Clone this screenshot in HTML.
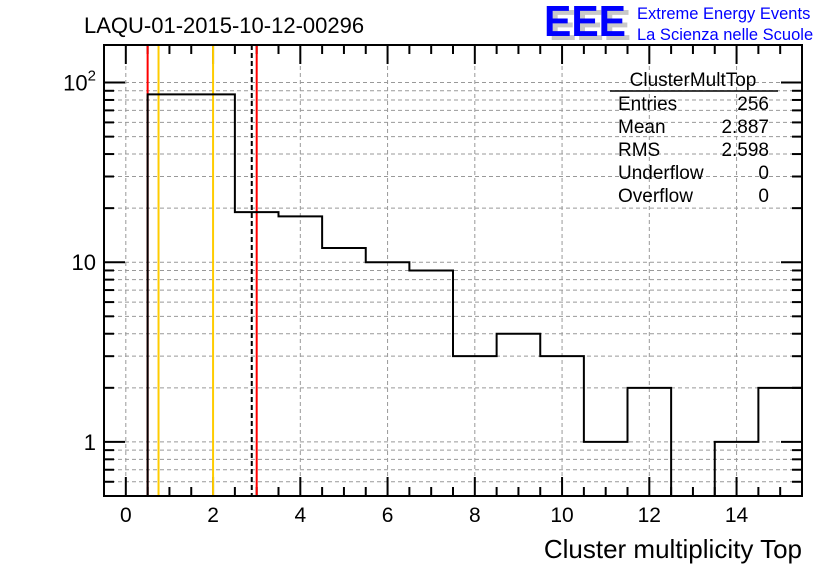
<!DOCTYPE html>
<html><head><meta charset="utf-8"><style>
html,body{margin:0;padding:0;background:#fff;}
svg{display:block;font-family:"Liberation Sans",sans-serif;}
</style></head><body>
<svg id="chart" width="836" height="572" viewBox="0 0 836 572">
<rect x="0" y="0" width="836" height="572" fill="#fff"/>
<g id="grid"></g>
<g id="ticks"></g>
<g id="lines"></g>
<g id="hist"></g>
<rect x="104" y="45" width="698" height="451" fill="none" stroke="#000" stroke-width="2"/>
<g id="labels"></g>
<text x="84" y="33" font-size="22">LAQU-01-2015-10-12-00296</text>
<g>
<text x="549" y="40" font-size="44" font-weight="bold" fill="#c8c8c8" textLength="82" lengthAdjust="spacingAndGlyphs">EEE</text>
<text x="544" y="36" font-size="44" font-weight="bold" fill="#0000ff" textLength="82" lengthAdjust="spacingAndGlyphs">EEE</text>
<text x="637" y="19" font-size="16.5" fill="#0000ff">Extreme Energy Events</text>
<text x="637" y="40" font-size="16.5" fill="#0000ff">La Scienza nelle Scuole</text>
</g>
<g font-size="19">
<text x="693" y="86" text-anchor="middle">ClusterMultTop</text>
<line x1="610" y1="91" x2="778" y2="91" stroke="#000" stroke-width="1.5"/>
<text x="618" y="110">Entries</text><text x="769" y="110" text-anchor="end">256</text>
<text x="618" y="133">Mean</text><text x="769" y="133" text-anchor="end">2.887</text>
<text x="618" y="156">RMS</text><text x="769" y="156" text-anchor="end">2.598</text>
<text x="618" y="179">Underflow</text><text x="769" y="179" text-anchor="end">0</text>
<text x="618" y="202">Overflow</text><text x="769" y="202" text-anchor="end">0</text>
</g>
<text x="802" y="558" font-size="26" text-anchor="end">Cluster multiplicity Top</text>
</svg>
<script>
const binCenters = [0,1,2,3,4,5,6,7,8,9,10,11,12,13,14,15];
const counts = [0,86,86,19,18,12,10,9,3,4,3,1,2,0,1,2];
const xTicks = [0,2,4,6,8,10,12,14];
const yTickValues = [1,10,100];
const markerRed = [0.5,3.0];
const markerYellow = [0.75,2.0];
const markerMean = [2.887];

const X0=104,X1=802,Y0=45,Y1=496,XMIN=-0.5,XMAX=15.5;
const YMIN=Math.log10(0.5),YMAX=2.209;
function xs(v){return X0+(v-XMIN)/(XMAX-XMIN)*(X1-X0);}
function ys(v){return Y1-(Math.log10(v)-YMIN)/(YMAX-YMIN)*(Y1-Y0);}
const NS="http://www.w3.org/2000/svg";
function mk(tag,attrs,parent){const e=document.createElementNS(NS,tag);for(const k in attrs)e.setAttribute(k,attrs[k]);parent.appendChild(e);return e;}
const grid=document.getElementById('grid'),ticks=document.getElementById('ticks'),lines=document.getElementById('lines'),hist=document.getElementById('hist'),labels=document.getElementById('labels');

xTicks.forEach(v=>{
  const g=mk('line',{x1:xs(v),x2:xs(v),y1:Y0,y2:Y1,stroke:'#999','stroke-dasharray':'4,3','stroke-width':1},grid);
  
  
  const t=mk('text',{x:xs(v),y:522,'font-size':21,'text-anchor':'middle'},labels);
  t.textContent=v;
  
  
});
for(let v=-0.5;v<=15.5;v+=0.5){
  const major=Math.abs(v%2)<1e-9;
  const L=major?19:9;
  mk('line',{x1:xs(v),x2:xs(v),y1:Y1,y2:Y1-L,stroke:'#000','stroke-width':2},ticks);
  mk('line',{x1:xs(v),x2:xs(v),y1:Y0,y2:Y0+L,stroke:'#000','stroke-width':2},ticks);
}
for(let d=-1;d<=2;d++){
  for(let m=1;m<=9;m++){
    const v=m*Math.pow(10,d);
    if(v<0.5||v>161)continue;
    const y=ys(v);
    const g=mk('line',{x1:X0,x2:X1,y1:y,y2:y,stroke:'#999','stroke-dasharray':'4,3','stroke-width':1},grid);
    
    
    const L=m===1?21:10;
    mk('line',{x1:X0,x2:X0+L,y1:y,y2:y,stroke:'#000','stroke-width':2},ticks);
    mk('line',{x1:X1,x2:X1-L,y1:y,y2:y,stroke:'#000','stroke-width':2},ticks);
  }
}
yTickValues.forEach(v=>{
  const y=ys(v)+8;
  const t=mk('text',{x:96,y:y,'font-size':22,'text-anchor':'end'},labels);
  if(v===100){t.innerHTML='10<tspan dy="-10" font-size="15">2</tspan>';}
  else t.textContent=v;
  
  
});
markerRed.forEach(v=>{
  const l=mk('line',{x1:xs(v),x2:xs(v),y1:Y0,y2:Y1,stroke:'#ff0000','stroke-width':2},lines);
  
  
});
markerYellow.forEach(v=>{
  const l=mk('line',{x1:xs(v),x2:xs(v),y1:Y0,y2:Y1,stroke:'#ffcc00','stroke-width':2},lines);
  
  
});
markerMean.forEach(v=>{
  const l=mk('line',{x1:xs(v),x2:xs(v),y1:Y0,y2:Y1,stroke:'#000','stroke-width':2,'stroke-dasharray':'5,3'},lines);
  
  
});
function yc(c){return c>0?Math.min(Y1,ys(c)):Y1;}
let d='';
binCenters.forEach((c,i)=>{
  const xl=xs(c-0.5),xr=xs(c+0.5),y=yc(counts[i]);
  d+=(i===0?'M'+xl+','+y:'L'+xl+','+y)+'L'+xr+','+y;
});
const p=mk('path',{d:d,fill:'none',stroke:'#000','stroke-width':2},hist);


</script>
</body></html>
